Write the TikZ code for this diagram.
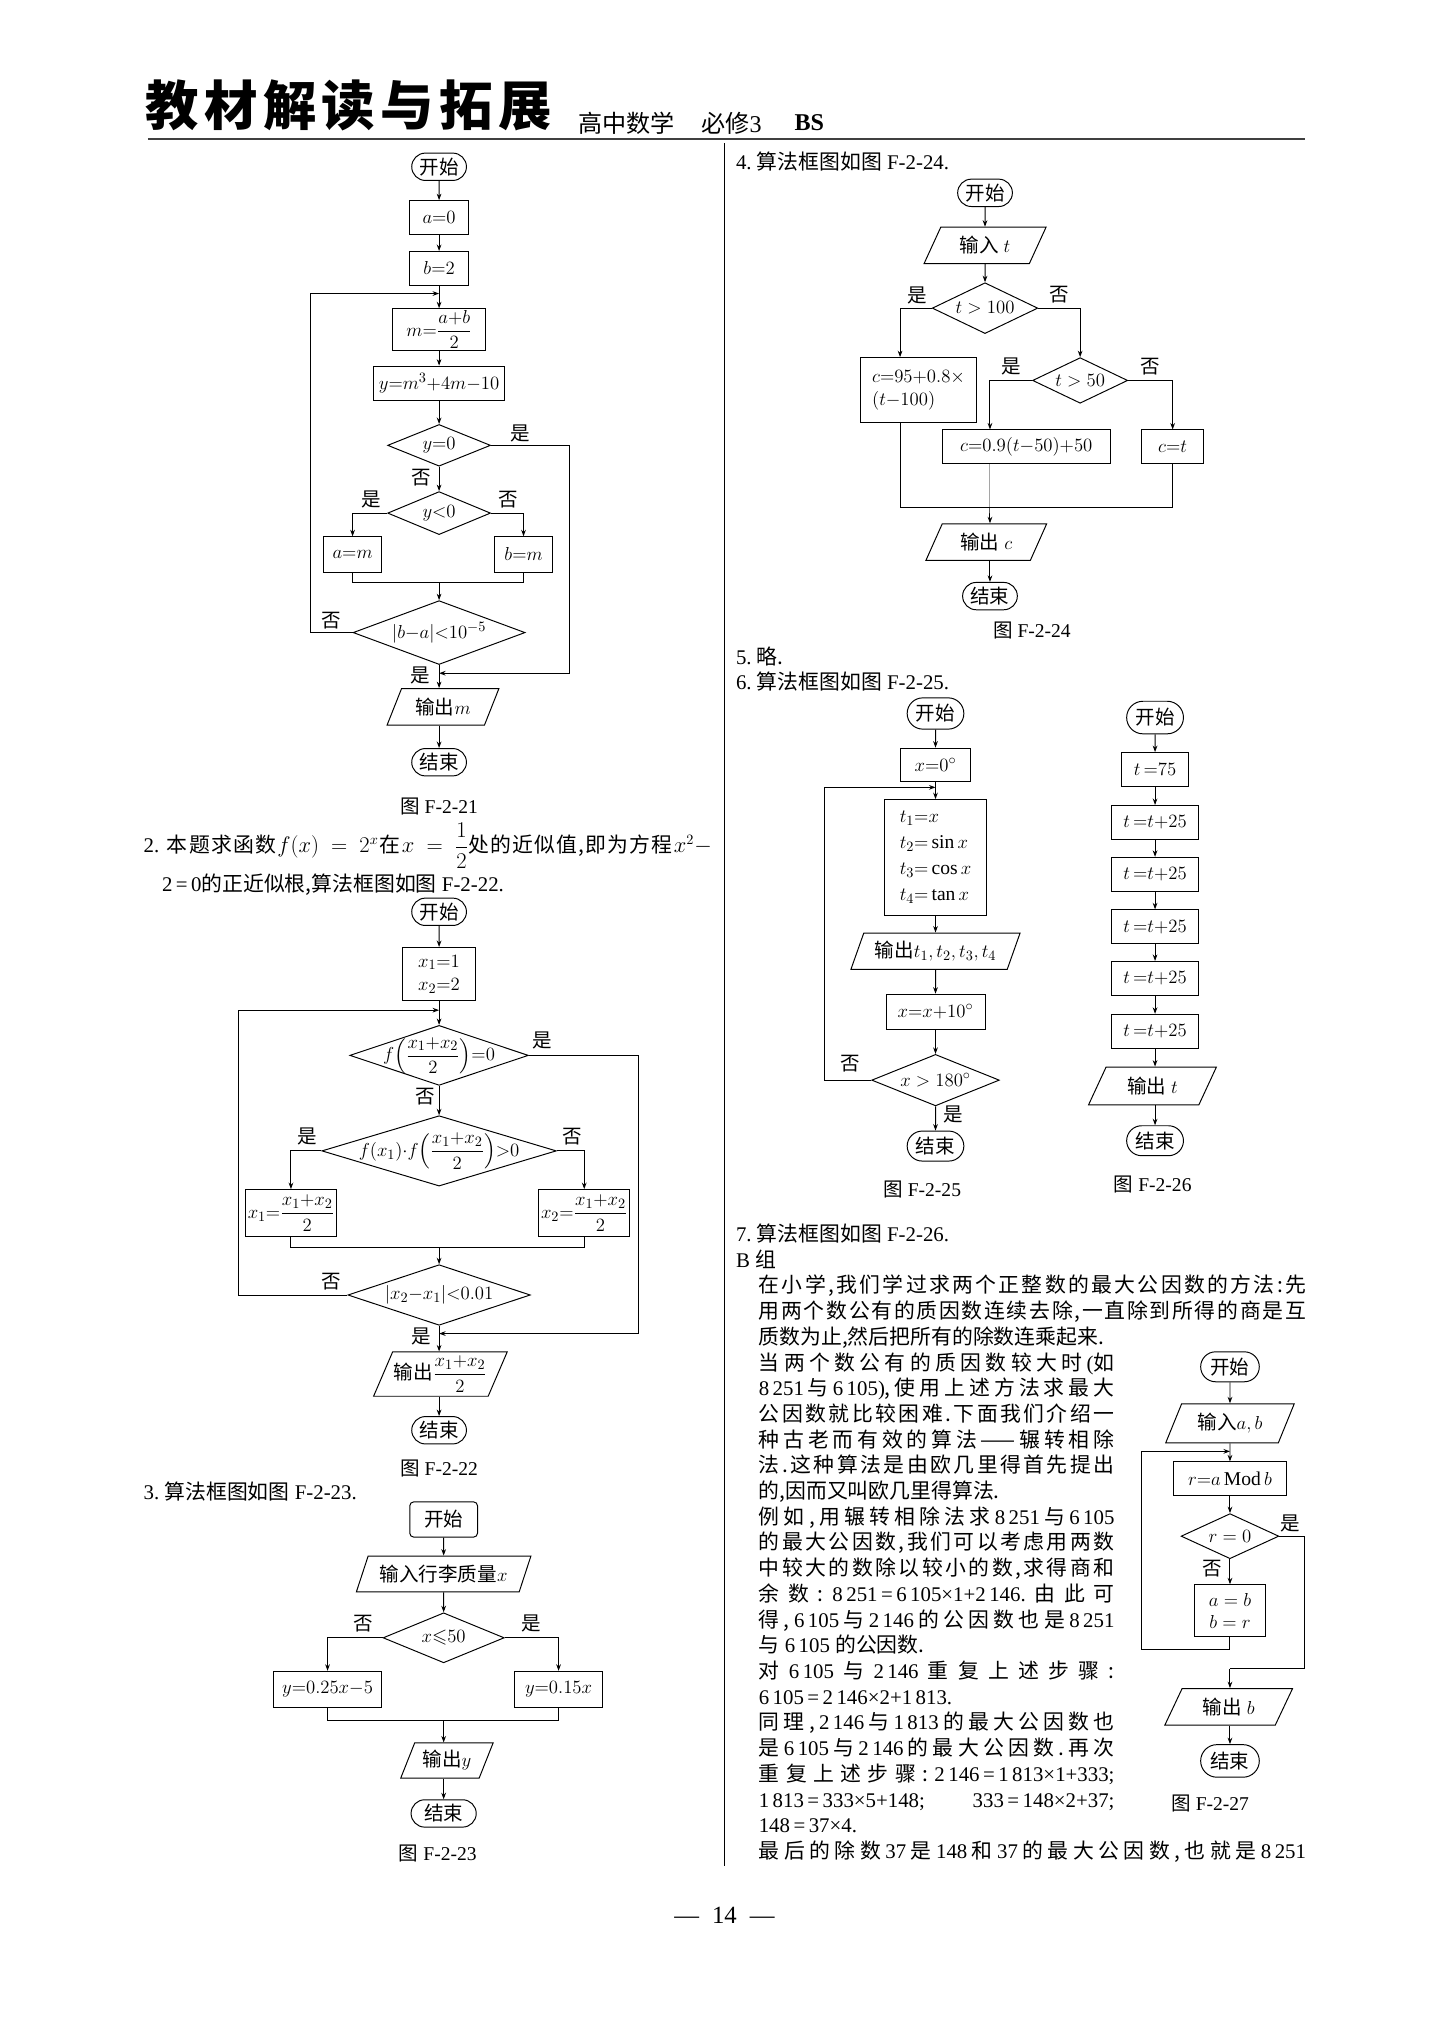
\documentclass[tikz,border=0pt]{standalone}
\usepackage{amsmath,amssymb}
\usepackage{fontspec}
\setmainfont{Liberation Serif}
\newfontfamily\cjk{Noto Sans CJK SC}
\XeTeXinterchartokenstate=1
\newXeTeXintercharclass\myCJK
\newcount\cjkc
\cjkc="3400
\loop \XeTeXcharclass\cjkc=\myCJK \advance\cjkc by 1 \ifnum\cjkc<"A000 \repeat
\XeTeXinterchartoks\myCJK\myCJK={\hskip 0pt plus 1pt\relax}
\XeTeXinterchartoks\myCJK 0={\hskip 0pt plus 1pt\relax}
\XeTeXinterchartoks 0 \myCJK={\hskip 0pt plus 1pt\relax}
\usetikzlibrary{shapes.geometric,shapes.misc,arrows.meta}
\newcommand\zh[1]{{\cjk #1}}
\newcommand\g{\hskip 0pt plus 1pt\relax}
\newcommand\zw[1]{\makebox[0pt]{#1}}
\newcommand\J[2]{\hbox to #1pt{#2}}
\newcommand\fchart{\fontsize{15}{17}\selectfont}
\newcommand\fbody{\fontsize{16}{19}\selectfont}
\tikzset{
 term/.style={draw, rounded rectangle, minimum width=44pt, minimum height=21pt, inner sep=1pt, font=\fchart\cjk},
 proc/.style n args={2}{draw, rectangle, minimum width=#1, minimum height=#2, inner sep=1pt, font=\fchart},
 dec/.style n args={2}{draw, diamond, inner sep=0pt, minimum width=#1, minimum height=#2, font=\fchart},
 io/.style n args={2}{draw, trapezium, trapezium left angle=64, trapezium right angle=116, trapezium stretches=true, minimum width=#1, minimum height=#2, inner sep=1pt, font=\fchart},
 arr/.style={-{Stealth[length=5pt,width=3.6pt]}},
 lbl/.style={font=\fchart\cjk, inner sep=0pt},
 figcap/.style={font=\fontsize{15}{17}\selectfont, inner sep=0pt},
 bodytxt/.style={anchor=base west, inner sep=0pt, font=\fbody},
}
\begin{document}
\begin{tikzpicture}[x=1pt,y=-1pt,line width=0.75pt]
\useasboundingbox (0,0) rectangle (1100,1568);
% ---------- header ----------
\node[anchor=west, inner sep=0pt, font=\cjk\bfseries\fontsize{41}{41}\selectfont] (title) at (111.5,81) {\J{311.5}{教材解读与拓展}};
\node[anchor=west, inner sep=0pt, font=\cjk\fontsize{18.5}{20}\selectfont] (sub1) at (443.4,94.5) {高中数学};
\node[anchor=west, inner sep=0pt, font=\fontsize{18.5}{20}\selectfont] (sub2) at (538,94.5) {\zh{必修}3};
\node[anchor=west, inner sep=0pt, font=\bfseries\fontsize{18.5}{20}\selectfont] (sub3) at (609.5,94.5) {BS};
\draw[line width=1.6pt, black!75] (113.5,107) -- (1001.4,107);
\draw[line width=0.6pt] (556,110) -- (556,1432);
\node[inner sep=0pt, font=\fontsize{19}{20}\selectfont] (pg) at (556,1470) {—\hspace{10pt}14\hspace{10pt}—};

% ---------- F-2-21 ----------
\node[term] (s1) at (337,128) {开始};
\node[proc={45pt}{26pt}] (a0) at (337,167) {$a{=}0$};
\node[proc={45pt}{26pt}] (b2) at (337,206) {$b{=}2$};
\coordinate (j1) at (337,225.3);
\node[proc={71pt}{32pt}] (mm) at (337,253) {$m{=}\dfrac{a{+}b}{2}$};
\node[proc={100pt}{26pt}] (yy) at (337,294) {$y{=}m^3{+}4m{-}10$};
\node[dec={79pt}{32pt}] (d0) at (337,341.8) {\zw{$y{=}0$}};
\node[dec={79pt}{33pt}] (d1) at (337,393.8) {\zw{$y{<}0$}};
\node[proc={45pt}{27pt}] (am) at (270.6,425.5) {$a{=}m$};
\node[proc={45pt}{27pt}] (bm) at (401.8,425.5) {$b{=}m$};
\coordinate (g1) at (337,447.4);
\node[dec={132pt}{49pt}] (d2) at (337,485.5) {\zw{$|b{-}a|{<}10^{-5}$}};
\coordinate (j2) at (337,516.7);
\node[io={86pt}{28pt}] (o1) at (340,542.5) {\zh{输出}$m$};
\node[term] (e1) at (337,585) {结束};
\node[figcap] (c1) at (337,619) {\zh{图} F-2-21};
\coordinate (L1) at (238,225.3);
\coordinate (R1) at (437,516.7);
\draw[arr] (s1) -- (a0);
\draw[arr] (a0) -- (b2);
\draw[arr] (b2) -- (mm);
\draw[arr] (mm) -- (yy);
\draw[arr] (yy) -- (d0);
\draw[arr] (d0) -- (d1);
\draw[arr] (d1.west) -| (am.north);
\draw[arr] (d1.east) -| (bm.north);
\draw (am.south) |- (g1) -| (bm.south);
\draw[arr] (g1) -- (d2.north);
\draw[arr] (d2.west) -| (L1) -- (j1);
\draw[arr] (d0.east) -| (R1) -- (j2);
\draw[arr] (d2.south) -- (d2.south |- o1.north);
\draw[arr] (e1.north |- o1.south) -- (e1.north);
\node[lbl] (l1a) at (399.2,332.5) {是};
\node[lbl] (l1b) at (323.7,366.3) {否};
\node[lbl] (l1c) at (285.3,383.2) {是};
\node[lbl] (l1d) at (390.2,383.2) {否};
\node[lbl] (l1e) at (254.6,476) {否};
\node[lbl] (l1f) at (322.4,518.4) {是};

% ---------- item 2 / F-2-22 ----------
\node[bodytxt] (t2a) at (109.9,654.6) {\J{436}{2.\ \zh{本题求函数}\g$f(x)=2^x$\g\zh{在}\g$x=\dfrac{1}{2}$\zh{处的近似值,即为方程}\g$x^2-$}};
\node[bodytxt] (t2b) at (124,684) {2\,=\,0\zh{的正近似根,算法框图如图} F-2-22.};
\node[term] (s2) at (337,699.8) {开始};
\node[proc={56pt}{41pt}, align=center] (x12) at (337,747.7) {$x_1{=}1$\\[1pt]$x_2{=}2$};
\coordinate (j3) at (337,775.3);
\node[dec={137pt}{46pt}] (d3) at (337,810) {\zw{$f\Big(\dfrac{x_1{+}x_2}{2}\Big){=}0$}};
\node[dec={180pt}{54pt}] (d4) at (337,883.3) {\zw{$f(x_1){\cdot}f\Big(\dfrac{x_1{+}x_2}{2}\Big){>}0$}};
\node[proc={70pt}{36pt}] (x1b) at (223.3,931) {$x_1{=}\dfrac{x_1{+}x_2}{2}$};
\node[proc={70pt}{36pt}] (x2b) at (448.4,931) {$x_2{=}\dfrac{x_1{+}x_2}{2}$};
\coordinate (g2) at (337,957.5);
\node[dec={140pt}{46.5pt}] (d5) at (337,993.9) {\zw{$|x_2{-}x_1|{<}0.01$}};
\coordinate (j4) at (337,1023.5);
\node[io={98pt}{34pt}] (o2) at (338,1054.6) {\zh{输出}$\dfrac{x_1{+}x_2}{2}$};
\node[term] (e2) at (337,1097.7) {结束};
\node[figcap] (c2) at (337,1127.2) {\zh{图} F-2-22};
\coordinate (L2) at (182.7,775.3);
\coordinate (R2) at (490.3,1023.5);
\draw[arr] (s2) -- (x12);
\draw[arr] (x12) -- (d3);
\draw[arr] (d3) -- (d4);
\draw[arr] (d4.west) -| (x1b.north);
\draw[arr] (d4.east) -| (x2b.north);
\draw (x1b.south) |- (g2) -| (x2b.south);
\draw[arr] (g2) -- (d5.north);
\draw[arr] (d5.west) -| (L2) -- (j3);
\draw[arr] (d3.east) -| (R2) -- (j4);
\draw[arr] (d5.south) -- (d5.south |- o2.north);
\draw[arr] (e2.north |- o2.south) -- (e2.north);
\node[lbl] (l2a) at (416,798.3) {是};
\node[lbl] (l2b) at (326.5,841.8) {否};
\node[lbl] (l2c) at (235.5,872.5) {是};
\node[lbl] (l2d) at (439.2,872.5) {否};
\node[lbl] (l2e) at (254.3,983.9) {否};
\node[lbl] (l2f) at (323.6,1026) {是};

% ---------- item 3 / F-2-23 ----------
\node[bodytxt] (t3) at (109.9,1151) {3.\ \zh{算法框图如图} F-2-23.};
\node[draw, rounded corners=3pt, minimum width=52pt, minimum height=27pt, inner sep=1pt, font=\fchart\cjk] (s3) at (340.5,1166.2) {开始};
\node[io={134pt}{27.4pt}] (in3) at (340.5,1208) {\zh{输入行李质量}$x$};
\node[dec={93pt}{38.4pt}] (d6) at (340.5,1257) {\zw{$x{\leqslant}50$}};
\node[proc={82.6pt}{27.4pt}] (y1) at (251.4,1296.4) {$y{=}0.25x{-}5$};
\node[proc={67pt}{27.4pt}] (y2) at (428.7,1296.4) {$y{=}0.15x$};
\coordinate (g3) at (340.5,1320.3);
\node[io={71pt}{27pt}] (o3) at (343,1351.2) {\zh{输出}$y$};
\node[term, minimum width=52pt] (e3) at (340.5,1391.8) {结束};
\node[figcap] (c3) at (336,1422.7) {\zh{图} F-2-23};
\draw[arr] (s3) -- (in3);
\draw[arr] (in3) -- (d6);
\draw[arr] (d6.west) -| (y1.north);
\draw[arr] (d6.east) -| (y2.north);
\draw (y1.south) |- (g3) -| (y2.south);
\draw[arr] (g3) -- (g3 |- o3.north);
\draw[arr] (e3.north |- o3.south) -- (e3.north);
\node[lbl] (l3a) at (278.9,1246) {否};
\node[lbl] (l3b) at (407.4,1246) {是};

% ---------- item 4 / F-2-24 ----------
\node[bodytxt] (t4) at (564.5,130) {4.\ \zh{算法框图如图} F-2-24.};
\node[term] (s4) at (756,148) {开始};
\node[io={94pt}{28pt}] (in4) at (756,188.4) {\zh{输入} $t$};
\node[dec={81pt}{39pt}] (d7) at (756,236.5) {\zw{$t>100$}};
\node[proc={89pt}{50pt}, align=left] (cb1) at (705,299.5) {$c{=}95{+}0.8{\times}$\\$(t{-}100)$};
\node[dec={73pt}{35pt}] (d8) at (829,292) {\zw{$t>50$}};
\node[proc={129pt}{26pt}] (cb2) at (787.7,343) {$c{=}0.9(t{-}50){+}50$};
\node[proc={48pt}{26pt}] (cb3) at (900,343) {$c{=}t$};
\coordinate (g4) at (759.8,389.5);
\node[io={93pt}{28pt}] (o4) at (757,416) {\zh{输出} $c$};
\node[term] (e4) at (759.8,457.5) {结束};
\node[figcap] (c4) at (792,483.7) {\zh{图} F-2-24};
\draw[arr] (s4) -- (in4);
\draw[arr] (in4) -- (d7);
\draw[arr] (d7.west) -| ([xshift=-14.2pt]cb1.north);
\draw[arr] (d7.east) -| (d8.north);
\draw[arr] (d8.west) -| ([xshift=-27.9pt]cb2.north);
\draw[arr] (d8.east) -| (cb3.north);
\draw ([xshift=-14.2pt]cb1.south) |- (cb3.south |- g4) -- (cb3.south);
\draw[arr] ([xshift=-27.9pt]cb2.south) -- (g4) -- (g4 |- o4.north);
\draw[arr] (g4 |- o4.south) -- (e4.north);
\node[lbl] (l4a) at (704,226.5) {是};
\node[lbl] (l4b) at (812.7,226.5) {否};
\node[lbl] (l4c) at (776,281.5) {是};
\node[lbl] (l4d) at (883.2,281.5) {否};

\node[bodytxt] (t5) at (564.5,510) {5.\ \zh{略.}};
\node[bodytxt] (t6) at (564.5,529) {6.\ \zh{算法框图如图} F-2-25.};

% ---------- F-2-25 ----------
\node[term, minimum width=45.5pt, minimum height=24pt] (s5) at (718,547.6) {开始};
\node[proc={54pt}{25.6pt}] (x0) at (718,587) {$x{=}0^\circ$};
\coordinate (j5) at (718,604.3);
\node[proc={78.5pt}{88.6pt}, align=left, font=\fontsize{15}{20}\selectfont] (tb) at (718,658) {$t_1{=}x$\\$t_2{=}\sin x$\\$t_3{=}\cos x$\\$t_4{=}\tan x$};
\node[io={130pt}{27.8pt}] (o5) at (718,730) {\zh{输出}$t_1,t_2,t_3,t_4$};
\node[proc={76pt}{26.7pt}] (x10) at (718,776.4) {$x{=}x{+}10^\circ$};
\node[dec={98pt}{39.5pt}] (d9) at (718,829) {\zw{$x>180^\circ$}};
\node[term, minimum width=45.5pt, minimum height=23pt] (e5) at (718,879.6) {结束};
\node[figcap] (c5) at (707.8,913) {\zh{图} F-2-25};
\coordinate (L5) at (632.6,604.3);
\draw[arr] (s5) -- (x0);
\draw[arr] (x0) -- (tb);
\draw[arr] (tb) -- (o5);
\draw[arr] (o5) -- (x10);
\draw[arr] (x10) -- (d9);
\draw[arr] (d9) -- (e5);
\draw[arr] (d9.west) -| (L5) -- (j5);
\node[lbl] (l5a) at (652.6,816) {否};
\node[lbl] (l5b) at (732,855.7) {是};

% ---------- F-2-26 ----------
\node[term, minimum width=45.6pt, minimum height=25pt] (s6) at (886.5,550.7) {开始};
\node[proc={52pt}{26pt}] (t75) at (886.5,590.6) {$t\,{=}75$};
\node[proc={67pt}{26pt}] (ta) at (886.5,631.2) {$t\,{=}t{+}25$};
\node[proc={67pt}{26pt}] (tbb) at (886.5,671) {$t\,{=}t{+}25$};
\node[proc={67pt}{26pt}] (tc) at (886.5,711.3) {$t\,{=}t{+}25$};
\node[proc={67pt}{26pt}] (td) at (886.5,750.9) {$t\,{=}t{+}25$};
\node[proc={67pt}{26pt}] (te) at (886.5,791.5) {$t\,{=}t{+}25$};
\node[io={98.5pt}{29pt}] (o6) at (884.5,833.5) {\zh{输出} $t$};
\node[term, minimum width=45.6pt, minimum height=23pt] (e6) at (886.5,875.5) {结束};
\node[figcap] (c6) at (884.7,909) {\zh{图} F-2-26};
\draw[arr] (s6) -- (t75);
\draw[arr] (t75) -- (ta);
\draw[arr] (ta) -- (tbb);
\draw[arr] (tbb) -- (tc);
\draw[arr] (tc) -- (td);
\draw[arr] (td) -- (te);
\draw[arr] (te.south) -- (te.south |- o6.north);
\draw[arr] (e6.north |- o6.south) -- (e6.north);

% ---------- item 7, B group text ----------
\node[bodytxt] (r00) at (564.5,952.8) {7.\ \zh{算法框图如图} F-2-26.};
\node[bodytxt] (r01) at (564.5,972.5) {B \zh{组}};
\node[bodytxt] (r02) at (582,992.3) {\J{420}{\zh{在小学,我们学过求两个正整数的最大公因数的方法:先}}};
\node[bodytxt] (r03) at (582,1012) {\J{420}{\zh{用两个数公有的质因数连续去除,一直除到所得的商是互}}};
\node[bodytxt] (r04) at (582,1031.7) {\zh{质数为止,然后把所有的除数连乘起来.}};
\node[bodytxt] (r05) at (582,1051.5) {\J{273}{\zh{当两个数公有的质因数较大时}\g(\zh{如}}};
\node[bodytxt] (r06) at (582,1071.2) {\J{273}{8\,251\g\zh{与}\g6\,105)\zh{,使用上述方法求最大}}};
\node[bodytxt] (r07) at (582,1090.9) {\J{273}{\zh{公因数就比较困难.下面我们介绍一}}};
\node[bodytxt] (r08) at (582,1110.6) {\J{273}{\zh{种古老而有效的算法——辗转相除}}};
\node[bodytxt] (r09) at (582,1130.4) {\J{273}{\zh{法.这种算法是由欧几里得首先提出}}};
\node[bodytxt] (r10) at (582,1150.1) {\zh{的,因而又叫欧几里得算法.}};
\node[bodytxt] (r11) at (582,1169.8) {\J{273}{\zh{例如,用辗转相除法求}\g8\,251\g\zh{与}\g6\,105}};
\node[bodytxt] (r12) at (582,1189.6) {\J{273}{\zh{的最大公因数,我们可以考虑用两数}}};
\node[bodytxt] (r13) at (582,1209.3) {\J{273}{\zh{中较大的数除以较小的数,求得商和}}};
\node[bodytxt] (r14) at (582,1229) {\J{273}{\zh{余数:}\g8\,251\,=\,6\,105×1+2\,146.\g\zh{由此可}}};
\node[bodytxt] (r15) at (582,1248.8) {\J{273}{\zh{得,}\g6\,105\g\zh{与}\g2\,146\g\zh{的公因数也是}\g8\,251}};
\node[bodytxt] (r16) at (582,1268.5) {\zh{与} 6\,105 \zh{的公因数.}};
\node[bodytxt] (r17) at (582,1288.2) {\J{273}{\zh{对}\g6\,105\g\zh{与}\g2\,146\g\zh{重复上述步骤:}}};
\node[bodytxt] (r18) at (582,1307.9) {6\,105\,=\,2\,146×2+1\,813.};
\node[bodytxt] (r19) at (582,1327.7) {\J{273}{\zh{同理,}\g2\,146\g\zh{与}\g1\,813\g\zh{的最大公因数也}}};
\node[bodytxt] (r20) at (582,1347.4) {\J{273}{\zh{是}\g6\,105\g\zh{与}\g2\,146\g\zh{的最大公因数.再次}}};
\node[bodytxt] (r21) at (582,1367.1) {\J{273}{\zh{重复上述步骤:}\g2\,146\,=\,1\,813×1+333;}};
\node[bodytxt] (r22) at (582,1386.9) {\J{273}{1\,813\,=\,333×5+148;\g333\,=\,148×2+37;}};
\node[bodytxt] (r23) at (582,1406.6) {148\,=\,37×4.};
\node[bodytxt] (r24) at (582,1426.3) {\J{420}{\zh{最后的除数}\g37\g\zh{是}\g148\g\zh{和}\g37\g\zh{的最大公因数,也就是}\g8\,251}};

% ---------- F-2-27 ----------
\node[term, minimum width=47pt, minimum height=23pt] (s7) at (944,1049) {开始};
\node[io={99pt}{30pt}] (in7) at (944,1092.4) {\zh{输入}$a,b$};
\coordinate (j6) at (944,1113.9);
\node[proc={86.7pt}{25.6pt}] (rb) at (944,1134.8) {$r{=}a\,\mathrm{Mod}\,b$};
\node[dec={75pt}{34.6pt}] (d10) at (944,1179) {\zw{$r=0$}};
\node[proc={55pt}{40pt}, align=center] (ab) at (944,1236.3) {$a=b$\\$b=r$};
\coordinate (g6) at (944,1265.9);
\coordinate (L6) at (875.9,1113.9);
\coordinate (R6) at (1001.3,1280.7);
\coordinate (j7) at (944,1280.7);
\node[io={98.5pt}{28pt}] (o7) at (943,1310) {\zh{输出} $b$};
\node[term, minimum width=47pt, minimum height=25pt] (e7) at (944,1351.5) {结束};
\node[figcap] (c7) at (928.8,1384.3) {\zh{图} F-2-27};
\draw[arr] (s7) -- (in7);
\draw[arr] (in7) -- (rb);
\draw[arr] (rb) -- (d10);
\draw[arr] (d10) -- (ab);
\draw[arr] (ab.south) -- (g6) -| (L6) -- (j6);
\draw (d10.east) -| (R6) -- (j7);
\draw[arr] (j7) -- (j7 |- o7.north);
\draw[arr] (e7.north |- o7.south) -- (e7.north);
\node[lbl] (l7a) at (990.5,1169.4) {是};
\node[lbl] (l7b) at (930.2,1204) {否};
\end{tikzpicture}
\end{document}
